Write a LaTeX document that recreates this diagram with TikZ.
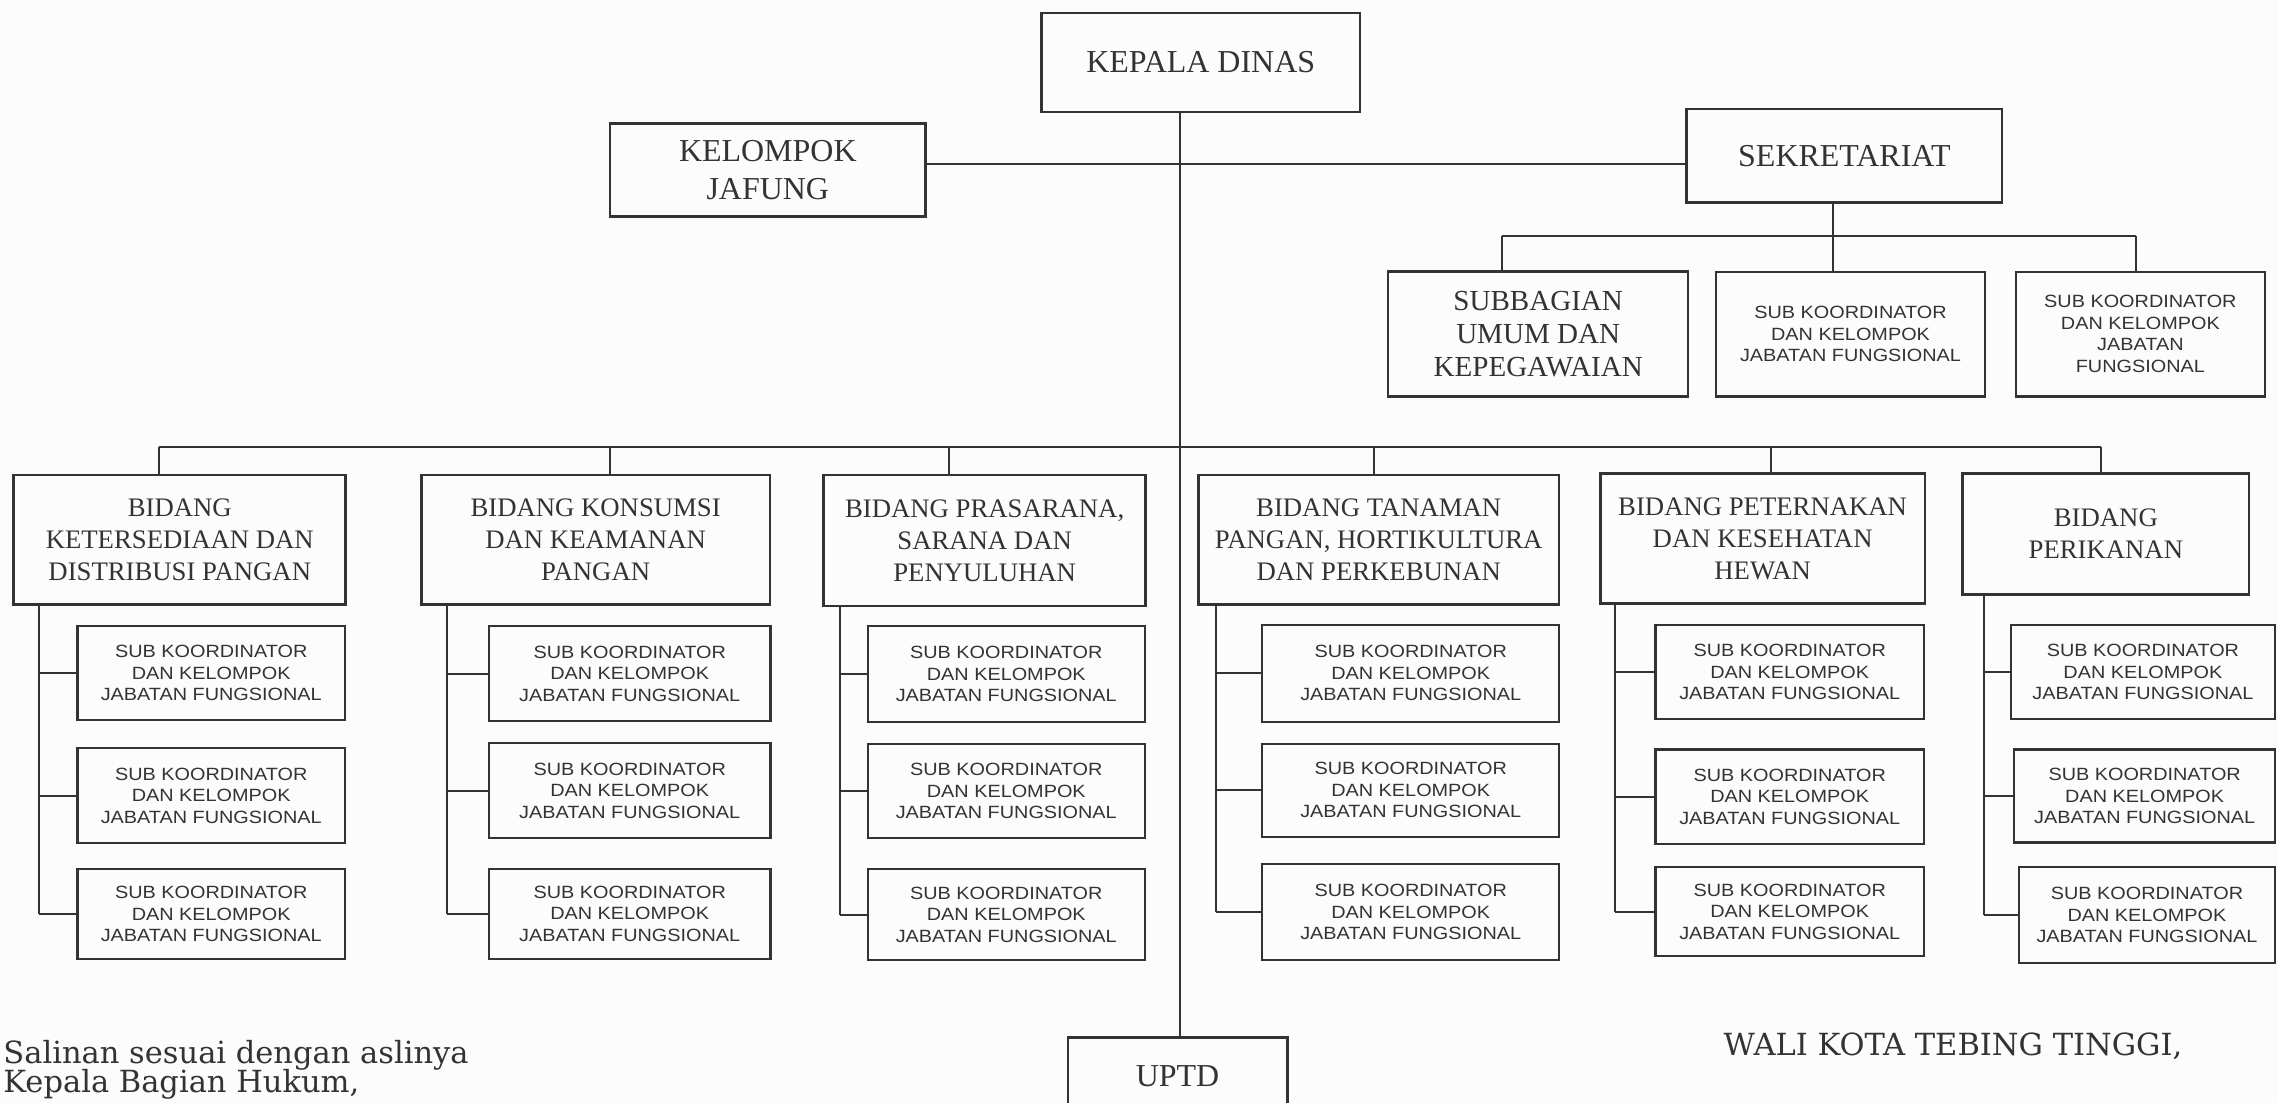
\documentclass[tikz,border=0pt]{standalone}
\usepackage{fontspec}
\setmainfont{Liberation Serif}
\newfontfamily\subfont[FakeStretch=1.12]{Liberation Sans}
\newfontfamily\signfont{DejaVu Serif}
\definecolor{ink}{HTML}{333333}
\definecolor{paper}{HTML}{FCFCFC}

% a "sub koordinator" box spanning (#2,#3)-(#4,#5)
\newcommand\subkoor[5]{%
  \node[subbox, span={#2}{#3}{#4}{#5}] (#1) {SUB KOORDINATOR\\DAN KELOMPOK\\JABATAN FUNGSIONAL};}

\begin{document}
\begin{tikzpicture}[x=0.5pt,y=-0.5pt,
  span/.style n args={4}{at={({(#1+#3)/2},{(#2+#4)/2})},
    minimum width={(#3-#1)*0.5pt}, minimum height={(#4-#2)*0.5pt}},
  box/.style={draw=ink, line width=0.9pt, inner sep=0pt, align=center, text=ink},
  topbox/.style={box, font=\fontsize{11}{13}\selectfont},
  secbox/.style={box, font=\fontsize{10}{11.5}\selectfont},
  fieldbox/.style={box, font=\fontsize{9.2}{11}\selectfont},
  subbox/.style={box, line width=0.8pt, font=\subfont\fontsize{6.1}{7.4}\selectfont},
  link/.style={draw=ink, line width=0.7pt},
  sign/.style={text=ink, font=\signfont\fontsize{10.5}{12}\selectfont, inner sep=0pt, anchor=base west}]

\fill[paper] (0,0) rectangle (1568,759);
\useasboundingbox (0,0) rectangle (1568,759);

% ---------- head ----------
\node[topbox, span={717}{9}{936}{77}] (kd) {KEPALA DINAS};
\node[topbox, span={420}{85}{637}{149}] (kj) {KELOMPOK\\JAFUNG};
\node[topbox, span={1161}{75}{1378}{139.5}] (sek) {SEKRETARIAT};

% ---------- secretariat units ----------
\node[secbox, span={955.5}{187}{1162}{273}] (sb) {SUBBAGIAN\\UMUM DAN\\KEPEGAWAIAN};
\subkoor{sk1}{1181}{187}{1366.5}{273}
\node[subbox, span={1387.5}{187}{1559}{273}] (sk2) {SUB KOORDINATOR\\DAN KELOMPOK\\JABATAN\\FUNGSIONAL};

% ---------- fields ----------
\node[fieldbox, span={9.5}{327}{238}{416}] (b1) {BIDANG\\KETERSEDIAAN DAN\\DISTRIBUSI PANGAN};
\node[fieldbox, span={290}{327}{530}{416}] (b2) {BIDANG KONSUMSI\\DAN KEAMANAN\\PANGAN};
\node[fieldbox, span={567}{327}{788.5}{417}] (b3) {BIDANG PRASARANA,\\SARANA DAN\\PENYULUHAN};
\node[fieldbox, span={825}{327}{1073}{416}] (b4) {BIDANG TANAMAN\\PANGAN, HORTIKULTURA\\DAN PERKEBUNAN};
\node[fieldbox, span={1101.5}{326}{1325}{415.5}] (b5) {BIDANG PETERNAKAN\\DAN KESEHATAN\\HEWAN};
\node[fieldbox, span={1351}{326}{1548}{409}] (b6) {BIDANG\\PERIKANAN};

% ---------- sub coordinators per field ----------
\subkoor{s11}{53.4}{431}{237.4}{495.6}
\subkoor{s12}{53.4}{514.8}{237.4}{580.4}
\subkoor{s13}{53.4}{598.3}{237.4}{660.3}

\subkoor{s21}{336.5}{431}{530.4}{496.3}
\subkoor{s22}{336.5}{511.6}{530.4}{576.7}
\subkoor{s23}{336.5}{598}{530.4}{660}

\subkoor{s31}{597.3}{431}{788}{497}
\subkoor{s32}{597.3}{512}{788}{577}
\subkoor{s33}{597.3}{598}{788}{661}

\subkoor{s41}{868.8}{430}{1073.3}{497}
\subkoor{s42}{868.8}{512}{1073.3}{576}
\subkoor{s43}{868.8}{594.6}{1073.3}{661}

\subkoor{s51}{1139.4}{430}{1324.4}{495}
\subkoor{s52}{1139.4}{516}{1324.4}{581}
\subkoor{s53}{1139.4}{597}{1324.4}{658}

\subkoor{s61}{1384}{430}{1566}{495}
\subkoor{s62}{1386.4}{516}{1566}{580}
\subkoor{s63}{1389.6}{597}{1566}{663}

% ---------- UPTD (its lower part runs off the page) ----------
\node[topbox, span={735}{714}{886}{768}] (uptd) {UPTD};

% ---------- connectors ----------
\coordinate (tk) at (812,0);
\coordinate (hl) at (0,113);
\draw[link] (kd.south -| tk) -- (uptd.north -| tk);
\draw[link] (kj.east |- hl) -- (sek.west |- hl);

\coordinate (sv) at (1261.5,162.4);
\coordinate (e1) at (1034,162.4);
\coordinate (e3) at (1470,162.4);
\draw[link] (sek.south -| sv) -- (sv);
\draw[link] (e1) -- (e3);
\draw[link] (e1) -- (sb.north -| e1);
\draw[link] (sv) -- (sk1.north -| sv);
\draw[link] (e3) -- (sk2.north -| e3);

\coordinate (d1) at (109.6,307.5);
\coordinate (d2) at (420,307.5);
\coordinate (d3) at (653.5,307.5);
\coordinate (d4) at (946,307.5);
\coordinate (d5) at (1219,307.5);
\coordinate (d6) at (1446,307.5);
\draw[link] (d1) -- (d6);
\foreach \d/\b in {d1/b1,d2/b2,d3/b3,d4/b4,d5/b5,d6/b6}
  \draw[link] (\d) -- (\b.north -| \d);

\coordinate (c1) at (27,0);
\coordinate (c2) at (307.7,0);
\coordinate (c3) at (578,0);
\coordinate (c4) at (837,0);
\coordinate (c5) at (1111.6,0);
\coordinate (c6) at (1365.3,0);
\foreach \c/\b in {c1/1,c2/2,c3/3,c4/4,c5/5,c6/6}{
  \draw[link] (b\b.south -| \c) -- (\c |- s\b3.west);
  \foreach \k in {1,2,3}
    \draw[link] (\c |- s\b\k.west) -- (s\b\k.west);
}

% ---------- signatures ----------
\node[sign] (sal1) at (2,731.7) {Salinan sesuai dengan aslinya};
\node[sign] (sal2) at (2,752) {Kepala Bagian Hukum,};
\node[sign] (wali) at (1186,726.2) {WALI KOTA TEBING TINGGI,};
\end{tikzpicture}
\end{document}
